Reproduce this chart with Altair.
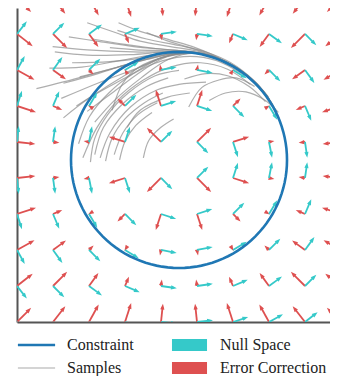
import math
import altair as alt
import pandas as pd

# ---------------- values ----------------
grid_x = [-1.5, -1.1667, -0.8333, -0.5, -0.1667, 0.1667, 0.5, 0.8333, 1.1667, 1.5]
grid_y = [1.5, 1.1667, 0.8333, 0.5, 0.1667, -0.1667, -0.5, -0.8333, -1.1667, -1.5]

# error-correction arrows: direction (deg, CCW from +x) and length (data units), rows top->bottom
error_angle = [
    [-45, -52, -61, -72, -84, -96, -108, -119, -128, -135],
    [-38, -45, -54, -67, -82, -98, -113, -126, -135, -142],
    [-29, -36, -45, 121, 101, 79, 59, -135, -144, -151],
    [-18, -23, 149, 135, 108, 72, 45, 31, -157, -162],
    [-6, -8, 169, 162, 135, 45, 18, 11, -172, -174],
    [6, 8, -169, -162, -135, -45, -18, -11, 172, 174],
    [18, 23, -149, -135, -108, -72, -45, -31, 157, 162],
    [29, 36, 45, -121, -101, -79, -59, 135, 144, 151],
    [38, 45, 54, 67, 82, 98, 113, 126, 135, 142],
    [45, 52, 61, 72, 84, 96, 108, 119, 128, 135],
]
error_len = [
    [0.185, 0.185, 0.185, 0.185, 0.171, 0.171, 0.185, 0.185, 0.185, 0.185],
    [0.185, 0.185, 0.148, 0.093, 0.060, 0.060, 0.093, 0.148, 0.185, 0.185],
    [0.185, 0.148, 0.060, 0.010, 0.051, 0.051, 0.010, 0.060, 0.148, 0.185],
    [0.185, 0.093, 0.010, 0.099, 0.157, 0.157, 0.099, 0.010, 0.093, 0.185],
    [0.171, 0.060, 0.051, 0.157, 0.185, 0.185, 0.157, 0.051, 0.060, 0.171],
    [0.171, 0.060, 0.051, 0.157, 0.185, 0.185, 0.157, 0.051, 0.060, 0.171],
    [0.185, 0.093, 0.010, 0.099, 0.157, 0.157, 0.099, 0.010, 0.093, 0.185],
    [0.185, 0.148, 0.060, 0.010, 0.051, 0.051, 0.010, 0.060, 0.148, 0.185],
    [0.185, 0.185, 0.148, 0.093, 0.060, 0.060, 0.093, 0.148, 0.185, 0.185],
    [0.185, 0.185, 0.185, 0.185, 0.171, 0.171, 0.185, 0.185, 0.185, 0.185],
]
# null-space arrows: direction (deg), constant length
null_angle = [
    [45, 38, 29, 18, 6, -6, -18, -29, -38, -45],
    [52, 45, 36, 23, 8, -8, -23, -36, -45, -52],
    [61, 54, 45, 31, 11, -11, -31, -45, -54, -61],
    [72, 67, 59, 45, 18, -18, -45, -59, -67, -72],
    [84, 82, 79, 72, 45, -45, -72, -79, -82, -84],
    [-84, -82, -79, -72, -45, 45, 72, 79, 82, 84],
    [-72, -67, -59, -45, -18, 18, 45, 59, 67, 72],
    [-61, -54, -45, -31, -11, 11, 31, 45, 54, 61],
    [-52, -45, -36, -23, -8, 8, 23, 36, 45, 52],
    [-45, -38, -29, -18, -6, 6, 18, 29, 38, 45],
]
null_len = 0.148

constraint_center = (0.0, 0.0)
constraint_radius = 1.0

samples = [
    [(-0.85, 1.27), (-0.59, 1.18), (-0.36, 1.10), (-0.08, 1.05), (0.2, 1.0), (0.45, 0.9), (0.65, 0.76), (0.78, 0.63)],
    [(-0.56, 1.27), (-0.36, 1.19), (-0.08, 1.11), (0.15, 1.04), (0.4, 0.93), (0.62, 0.79), (0.8, 0.61), (0.9, 0.45)],
    [(-1.02, 1.14), (-0.76, 1.10), (-0.42, 1.05), (-0.08, 1.02), (0.2, 0.99), (0.45, 0.9), (0.66, 0.75), (0.8, 0.6)],
    [(-1.17, 1.05), (-0.85, 1.02), (-0.42, 1.0), (-0.08, 1.0), (0.2, 0.985), (0.45, 0.895), (0.68, 0.735), (0.84, 0.55)],
    [(-1.15, 1.0), (-0.85, 0.97), (-0.45, 0.975), (-0.1, 1.0), (0.2, 0.985), (0.5, 0.87), (0.72, 0.7), (0.86, 0.52)],
    [(-0.99, 0.9), (-0.64, 0.91), (-0.3, 0.95), (-0.05, 1.0), (0.25, 0.975), (0.5, 0.875), (0.7, 0.72)],
    [(-1.32, 0.66), (-0.89, 0.77), (-0.42, 0.9), (-0.08, 0.98), (0.2, 0.985), (0.5, 0.875), (0.72, 0.705), (0.85, 0.54), (0.93, 0.38)],
    [(-1.09, 0.57), (-0.73, 0.72), (-0.36, 0.86), (-0.08, 0.97), (0.22, 0.98), (0.5, 0.875), (0.71, 0.71), (0.84, 0.56)],
    [(-1.07, 0.39), (-0.82, 0.58), (-0.48, 0.77), (-0.15, 0.95), (0.15, 0.995), (0.45, 0.9), (0.68, 0.74), (0.82, 0.59)],
    [(-0.92, 0.77), (-0.6, 0.85), (-0.3, 0.93), (0.0, 0.99), (0.3, 0.96), (0.55, 0.84), (0.74, 0.68)],
    [(-1.07, 0.71), (-0.75, 0.8), (-0.4, 0.91), (-0.05, 0.99), (0.25, 0.975), (0.52, 0.86), (0.73, 0.69), (0.86, 0.52)],
    [(-0.57, 1.2), (-0.3, 1.12), (0.0, 1.06), (0.25, 1.0), (0.48, 0.9), (0.7, 0.73), (0.83, 0.58)],
    [(-0.64, 1.04), (-0.4, 1.02), (-0.1, 1.01), (0.2, 0.99), (0.47, 0.885), (0.7, 0.72)],
    [(-0.8, 1.12), (-0.5, 1.07), (-0.2, 1.03), (0.1, 1.0), (0.4, 0.92), (0.64, 0.775), (0.8, 0.61), (0.9, 0.44)],
    [(-0.3, 1.18), (-0.1, 1.1), (0.1, 1.04), (0.35, 0.95), (0.6, 0.81), (0.78, 0.64)],
    [(-1.2, 0.85), (-0.9, 0.86), (-0.55, 0.92), (-0.2, 0.98), (0.1, 1.0), (0.4, 0.92), (0.65, 0.77), (0.8, 0.61)],
    [(-0.95, 0.5), (-0.7, 0.66), (-0.4, 0.84), (-0.12, 0.96), (0.2, 0.985), (0.48, 0.88), (0.7, 0.72), (0.82, 0.58)],
    [(-0.85, 0.45), (-0.62, 0.62), (-0.35, 0.82), (-0.1, 0.96), (0.2, 0.985), (0.5, 0.875), (0.72, 0.7)],
    [(-0.78, 0.35), (-0.6, 0.55), (-0.35, 0.76), (-0.1, 0.93), (0.15, 0.99), (0.45, 0.9), (0.68, 0.74), (0.83, 0.57)],
    [(-0.89, 0.02), (-0.76, 0.3), (-0.57, 0.55), (-0.33, 0.74), (-0.08, 0.86), (0.2, 0.9), (0.45, 0.84), (0.66, 0.7)],
    [(-0.73, 0.02), (-0.64, 0.25), (-0.45, 0.49), (-0.2, 0.65), (0.0, 0.7), (0.25, 0.72)],
    [(-0.48, 0.3), (-0.36, 0.46), (-0.11, 0.58), (0.1, 0.62)],
    [(-0.33, 0.02), (-0.28, 0.18), (-0.17, 0.3), (-0.05, 0.38)],
    [(-0.82, -0.02), (-0.78, 0.2), (-0.66, 0.42), (-0.47, 0.62), (-0.22, 0.78), (0.0, 0.83)],
    [(-0.78, 0.05), (-0.7, 0.3), (-0.52, 0.52), (-0.3, 0.68), (-0.1, 0.76)],
    [(-0.68, -0.01), (-0.62, 0.2), (-0.5, 0.38), (-0.32, 0.53), (-0.15, 0.62)],
    [(-0.6, 0.05), (-0.52, 0.25), (-0.38, 0.42), (-0.2, 0.53)],
    [(-0.93, 0.15), (-0.83, 0.4), (-0.65, 0.62), (-0.42, 0.8), (-0.15, 0.92), (0.1, 0.96), (0.35, 0.92), (0.58, 0.8)],
    [(-0.55, 0.0), (-0.5, 0.17), (-0.4, 0.32), (-0.25, 0.44)],
    [(-0.62, 0.46), (-0.52, 0.71), (-0.37, 0.86), (-0.15, 0.95), (0.1, 0.99)],
    [(0.28, 0.55), (0.43, 0.62), (0.62, 0.63), (0.8, 0.55), (0.92, 0.44)],
    [(0.09, 0.49), (0.21, 0.67), (0.37, 0.74), (0.53, 0.76), (0.7, 0.68)],
    [(0.05, 0.75), (0.25, 0.8), (0.45, 0.78), (0.65, 0.68), (0.8, 0.54)],
]

legend_items = ["Constraint", "Samples", "Null Space", "Error Correction"]
legend_colors = ["#1f77b4", "#c6c6c6", "#35c9c9", "#de5050"]
legend_shapes = [
    "M-3.1,-0.22H3.1V0.22H-3.1Z",
    "M-3.1,-0.11H3.1V0.11H-3.1Z",
    "M-2.92,-1H2.92V1H-2.92Z",
    "M-2.92,-1H2.92V1H-2.92Z",
]

# ---------------- styles ----------------
TEAL = "#35c9c9"
RED = "#de5050"
BLUE = "#1f77b4"
HEAD_BACK = 0.032
HEAD_PATH = "M0,0L0.72,2L-0.72,2Z"

xs = alt.Scale(domain=[-1.5, 1.398], nice=False, zero=False)
ys = alt.Scale(domain=[-1.5, 1.407], nice=False, zero=False)
ax = alt.Axis(grid=False, ticks=False, labels=False, title=None, domain=True,
              domainColor="#555555", domainWidth=2)


def arrow_frame(angles, lengths):
    recs = []
    for i, gy in enumerate(grid_y):
        for j, gx in enumerate(grid_x):
            ang = angles[i][j]
            L = lengths[i][j] if isinstance(lengths, list) else lengths
            a = math.radians(ang)
            ux, uy = math.cos(a), math.sin(a)
            shaft = max(L - HEAD_BACK, 0.0)
            recs.append(dict(x=gx, y=gy, x2=gx + shaft * ux, y2=gy + shaft * uy,
                             tx=gx + L * ux, ty=gy + L * uy, rot=(90 - ang) % 360))
    return pd.DataFrame(recs)


err_df = arrow_frame(error_angle, error_len)
null_df = arrow_frame(null_angle, null_len)

samp_recs = []
for sid, pts in enumerate(samples):
    for k, (px, py) in enumerate(pts):
        samp_recs.append(dict(sid=sid, seq=k, x=px, y=py))
samp_df = pd.DataFrame(samp_recs)

circ_recs = []
for k, deg in enumerate(range(0, 361, 3)):
    a = math.radians(deg)
    circ_recs.append(dict(seq=k, x=constraint_center[0] + constraint_radius * math.cos(a),
                          y=constraint_center[1] + constraint_radius * math.sin(a)))
circ_df = pd.DataFrame(circ_recs)


def shafts(df, color):
    return alt.Chart(df).mark_rule(color=color, strokeWidth=1.8, clip=True).encode(
        x=alt.X("x:Q", scale=xs, axis=ax), y=alt.Y("y:Q", scale=ys, axis=ax),
        x2="x2:Q", y2="y2:Q")


def heads(df, color):
    return alt.Chart(df).mark_point(shape=HEAD_PATH, filled=True, size=34, color=color,
                                    opacity=1, strokeWidth=0, clip=True).encode(
        x=alt.X("tx:Q", scale=xs, axis=ax), y=alt.Y("ty:Q", scale=ys, axis=ax),
        angle=alt.Angle("rot:Q", scale=None))


samples_layer = alt.Chart(samp_df).mark_line(
    interpolate="catmull-rom", color="#8c8c8c", strokeWidth=1.2, opacity=0.7, clip=True
).encode(x=alt.X("x:Q", scale=xs, axis=ax), y=alt.Y("y:Q", scale=ys, axis=ax),
         detail="sid:N", order="seq:Q")

circle_layer = alt.Chart(circ_df).mark_line(color=BLUE, strokeWidth=2.6, clip=True).encode(
    x=alt.X("x:Q", scale=xs, axis=ax), y=alt.Y("y:Q", scale=ys, axis=ax), order="seq:Q")

leg = alt.Legend(title=None, orient="none", legendX=11.5, legendY=329, columns=2,
                 symbolSize=144, labelOffset=22.5, columnPadding=37, rowPadding=7, padding=0,
                 labelFont="Liberation Serif", labelFontSize=16, labelColor="#222222",
                 symbolStrokeWidth=0, symbolOpacity=1)

legend_layer = alt.Chart(pd.DataFrame({"kind": legend_items})).transform_filter("false").mark_point(
    filled=True, opacity=1).encode(
    color=alt.Color("kind:N", scale=alt.Scale(domain=legend_items, range=legend_colors), legend=leg),
    shape=alt.Shape("kind:N", scale=alt.Scale(domain=legend_items, range=legend_shapes), legend=leg),
)

chart = alt.layer(
    samples_layer,
    shafts(err_df, RED), heads(err_df, RED),
    shafts(null_df, TEAL), heads(null_df, TEAL),
    circle_layer,
    legend_layer,
).properties(
    width=313, height=314,
    autosize=alt.AutoSizeParams(type="none"),
    padding={"left": 9, "top": 0, "right": 0, "bottom": 54},
).configure_view(stroke=None)

chart.save("out.html", embed_options={"renderer": "svg", "actions": False})
